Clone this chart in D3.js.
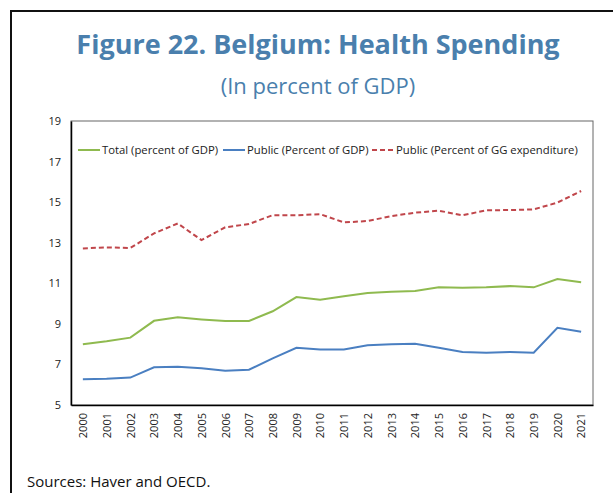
<!DOCTYPE html>
<html>
<head>
<meta charset="utf-8">
<script src="https://cdn.jsdelivr.net/npm/d3@7"></script>
<style>
  body { margin: 0; background: #fff; }
  text { font-family: "Open Sans", "Noto Sans", sans-serif; }
</style>
</head>
<body>
<script>
var width = 613,
    height = 493;

// data
var years = ["2000","2001","2002","2003","2004","2005","2006","2007","2008","2009","2010",
             "2011","2012","2013","2014","2015","2016","2017","2018","2019","2020","2021"];
var total = [7.99, 8.14, 8.32, 9.15, 9.32, 9.22, 9.14, 9.14, 9.62, 10.32, 10.19,
             10.36, 10.52, 10.58, 10.62, 10.80, 10.78, 10.80, 10.86, 10.80, 11.21, 11.05];
var publicGdp = [6.27, 6.29, 6.35, 6.86, 6.89, 6.81, 6.69, 6.74, 7.30, 7.82, 7.74,
                 7.74, 7.94, 8.00, 8.02, 7.82, 7.61, 7.58, 7.61, 7.58, 8.81, 8.61];
var publicGg = [12.72, 12.77, 12.74, 13.46, 13.95, 13.13, 13.76, 13.92, 14.36, 14.35, 14.41,
                14.00, 14.07, 14.31, 14.48, 14.58, 14.35, 14.60, 14.61, 14.64, 14.98, 15.55];
var yTicks = [5, 7, 9, 11, 13, 15, 17, 19];

var series = [
  {name: "Total (percent of GDP)", values: total, color: "#8fba4f", dash: null},
  {name: "Public (Percent of GDP)", values: publicGdp, color: "#4a7fc1", dash: null},
  {name: "Public (Percent of GG expenditure)", values: publicGg, color: "#c0464b", dash: "5,3"}
];

var margin = {left: 71, top: 121, right: 20, bottom: 88};
var plotW = width - margin.left - margin.right,
    plotH = height - margin.top - margin.bottom;

var svg = d3.select("body").append("svg")
    .attr("width", width)
    .attr("height", height);

// outer frame
svg.append("path")
    .attr("d", "M11," + height + " L11,11 L" + width + ",11")
    .attr("fill", "none")
    .attr("stroke", "#111")
    .attr("stroke-width", 2);

// titles
svg.append("text")
    .attr("x", 318).attr("y", 54)
    .attr("text-anchor", "middle")
    .attr("font-size", "27px")
    .attr("font-weight", "bold")
    .attr("fill", "#4a7fad")
    .text("Figure 22. Belgium: Health Spending");

svg.append("text")
    .attr("x", 318).attr("y", 94)
    .attr("text-anchor", "middle")
    .attr("font-size", "22px")
    .attr("fill", "#4a7fad")
    .text("(In percent of GDP)");

var x = d3.scalePoint()
    .domain(years)
    .range([0, plotW])
    .padding(0.5);

var y = d3.scaleLinear()
    .domain([5, 19])
    .range([plotH, 0]);

var g = svg.append("g")
    .attr("transform", "translate(" + margin.left + "," + margin.top + ")");

// plot area border
g.append("rect")
    .attr("width", plotW)
    .attr("height", plotH)
    .attr("fill", "none")
    .attr("stroke", "#666")
    .attr("stroke-width", 1);

// y axis
var yAxis = g.append("g")
    .call(d3.axisLeft(y).tickValues(yTicks).tickSize(0).tickPadding(10));
yAxis.select(".domain").attr("stroke", "#000").attr("stroke-width", 1.5);
yAxis.selectAll("text").attr("font-size", "11px").attr("fill", "#222");

// x axis
var xAxis = g.append("g")
    .attr("transform", "translate(0," + plotH + ")")
    .call(d3.axisBottom(x).tickSize(0).tickPadding(0));
xAxis.select(".domain").attr("stroke", "#000").attr("stroke-width", 1.5);
xAxis.selectAll("text")
    .attr("font-size", "11px")
    .attr("fill", "#222")
    .attr("transform", "rotate(-90)")
    .attr("text-anchor", "end")
    .attr("x", -8)
    .attr("y", 0)
    .attr("dy", "0.35em");

// lines
var line = d3.line()
    .x(function(d, i) { return x(years[i]); })
    .y(function(d) { return y(d); });

series.forEach(function(s) {
  g.append("path")
      .attr("d", line(s.values))
      .attr("fill", "none")
      .attr("stroke", s.color)
      .attr("stroke-width", 2)
      .attr("stroke-dasharray", s.dash);
});

// legend
var legendX = [78, 223, 372];
var legend = svg.append("g");
series.forEach(function(s, i) {
  legend.append("line")
      .attr("x1", legendX[i]).attr("x2", legendX[i] + 22)
      .attr("y1", 150).attr("y2", 150)
      .attr("stroke", s.color)
      .attr("stroke-width", 2)
      .attr("stroke-dasharray", s.dash);
  legend.append("text")
      .attr("x", legendX[i] + 24).attr("y", 150)
      .attr("dy", "0.35em")
      .attr("font-size", "11.3px")
      .attr("fill", "#222")
      .text(s.name);
});

// source note
svg.append("text")
    .attr("x", 27).attr("y", 487)
    .attr("font-size", "15px")
    .attr("fill", "#111")
    .text("Sources: Haver and OECD.");
</script>
</body>
</html>
